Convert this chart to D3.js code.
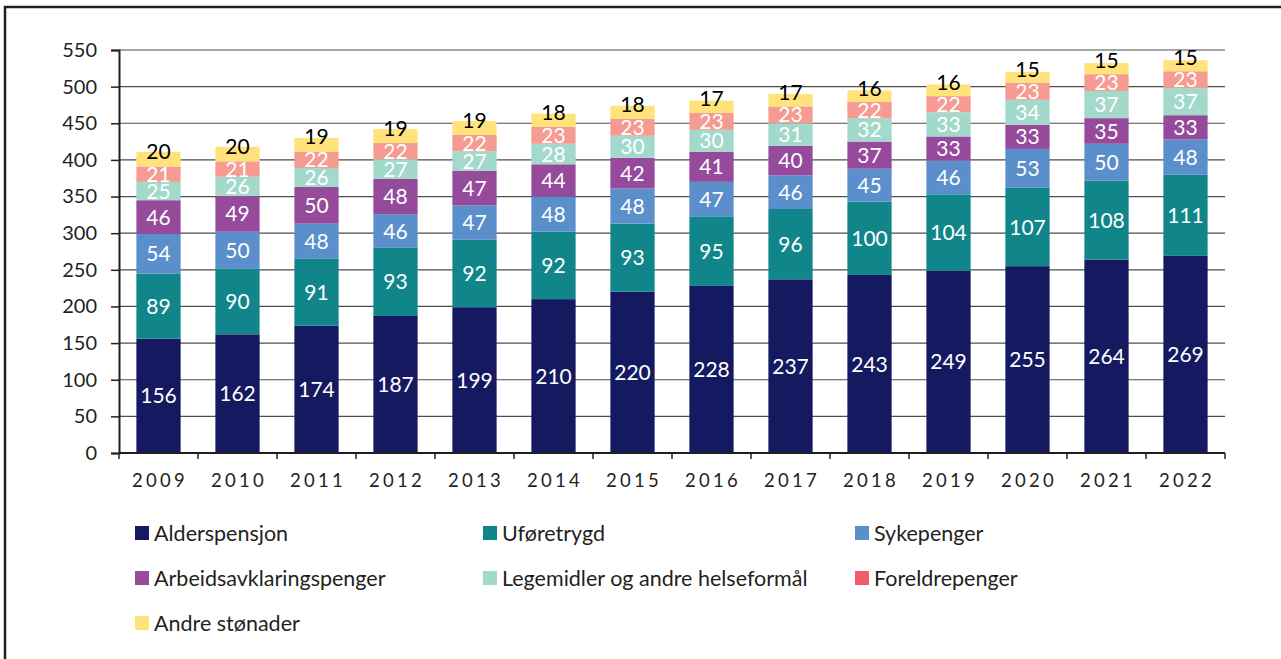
<!DOCTYPE html>
<html>
<head>
<meta charset="utf-8">
<script src="https://cdn.jsdelivr.net/npm/d3@7"></script>
<style>
  body { margin: 0; background: #fff; }
  svg { display: block; font-family: Lato, "Open Sans", sans-serif; }
</style>
</head>
<body>
<div id="chart"></div>
<script>
const years = ["2009","2010","2011","2012","2013","2014","2015","2016","2017","2018","2019","2020","2021","2022"];
const seriesNames = ["Alderspensjon","Uføretrygd","Sykepenger","Arbeidsavklaringspenger","Legemidler og andre helseformål","Foreldrepenger","Andre stønader"];
const alderspensjon = [156,162,174,187,199,210,220,228,237,243,249,255,264,269];
const uforetrygd    = [89,90,91,93,92,92,93,95,96,100,104,107,108,111];
const sykepenger    = [54,50,48,46,47,48,48,47,46,45,46,53,50,48];
const aap           = [46,49,50,48,47,44,42,41,40,37,33,33,35,33];
const legemidler    = [25,26,26,27,27,28,30,30,31,32,33,34,37,37];
const foreldre      = [21,21,22,22,22,23,23,23,23,22,22,23,23,23];
const andre         = [20,20,19,19,19,18,18,17,17,16,16,15,15,15];
const yTicks = [0,50,100,150,200,250,300,350,400,450,500,550];

const barColors = ["#151960","#10868a","#5b8fcb","#954a9c","#a3d9cb","#f59b91","#ffe27a"];
const legendColors = ["#151960","#10868a","#5b8fcb","#954a9c","#a3d9cb","#f25c66","#ffe27a"];
const labelColors = ["#fff","#fff","#fff","#fff","#fff","#fff","#000"];

const allSeries = [alderspensjon, uforetrygd, sykepenger, aap, legemidler, foreldre, andre];
const rows = years.map((y, i) => {
  const r = { year: y };
  seriesNames.forEach((n, k) => r[n] = allSeries[k][i]);
  return r;
});

const width = 1281, height = 659;
const marginLeft = 119, marginRight = 56, marginTop = 50, plotBottom = 453;

const svg = d3.select("#chart").append("svg")
  .attr("width", width).attr("height", height);

// outer frame
svg.append("rect")
  .attr("x", 5).attr("y", 7)
  .attr("width", width + 20).attr("height", height + 20)
  .attr("fill", "none").attr("stroke", "#231f20").attr("stroke-width", 2.5);

const x = d3.scaleBand()
  .domain(years)
  .range([marginLeft, width - marginRight])
  .paddingInner(0.44).paddingOuter(0.22);

const y = d3.scaleLinear().domain([0, 550]).range([plotBottom, marginTop]);

// grid
svg.append("g")
  .selectAll("line")
  .data(yTicks.filter(d => d > 0))
  .join("line")
    .attr("x1", marginLeft).attr("x2", width - marginRight)
    .attr("y1", d => y(d)).attr("y2", d => y(d))
    .attr("stroke", "#4d4d4d").attr("stroke-width", 1.2);

const stacked = d3.stack().keys(seriesNames)(rows);

const layer = svg.append("g")
  .selectAll("g")
  .data(stacked)
  .join("g")
    .attr("fill", (d, i) => barColors[i]);

layer.selectAll("rect")
  .data(d => d)
  .join("rect")
    .attr("x", d => x(d.data.year))
    .attr("width", x.bandwidth())
    .attr("y", d => y(d[1]))
    .attr("height", d => y(d[0]) - y(d[1]));

// y axis
svg.append("g")
  .attr("transform", `translate(${marginLeft},0)`)
  .call(d3.axisLeft(y).tickValues(yTicks).tickSize(8).tickPadding(14))
  .call(g => g.select(".domain").attr("stroke", "#231f20").attr("stroke-width", 2))
  .call(g => g.selectAll(".tick line").attr("stroke", "#231f20").attr("stroke-width", 1.5))
  .call(g => g.selectAll(".tick text").attr("font-size", 20).attr("fill", "#231f20")
    .attr("font-family", "Lato, sans-serif"));

// x axis with ticks at category boundaries
const xAxisG = svg.append("g").attr("transform", `translate(0,${plotBottom})`);
xAxisG.append("line")
  .attr("x1", marginLeft).attr("x2", width - marginRight)
  .attr("stroke", "#231f20").attr("stroke-width", 2);
const step = x.step();
const bounds = years.map(yr => x(yr) - x.paddingInner() * step / 2).concat([width - marginRight]);
bounds[0] = marginLeft;
xAxisG.selectAll("line.tk")
  .data(bounds)
  .join("line")
    .attr("class", "tk")
    .attr("x1", d => d).attr("x2", d => d)
    .attr("y1", 0).attr("y2", 6)
    .attr("stroke", "#231f20").attr("stroke-width", 1.5);
xAxisG.selectAll("text")
  .data(years)
  .join("text")
    .attr("x", d => x(d) + x.bandwidth() / 2 + 1.5)
    .attr("y", 34)
    .attr("text-anchor", "middle")
    .attr("font-size", 18.5)
    .attr("letter-spacing", 3.3)
    .attr("fill", "#231f20")
    .text(d => d);

// value labels (top series sits a bit higher, as in the original)
layer.each(function(s, i) {
  d3.select(this).selectAll("text")
    .data(s)
    .join("text")
      .attr("x", d => x(d.data.year) + x.bandwidth() / 2)
      .attr("y", d => y((d[0] + d[1]) / 2) - (i === 6 ? 8 : 0))
      .attr("dy", "0.36em")
      .attr("text-anchor", "middle")
      .attr("font-size", 21)
      .attr("fill", labelColors[i])
      .text(d => d[1] - d[0]);
});

// legend
const legendPos = [[135,533],[483,533],[855,533],[135,578],[483,578],[855,578],[135,623]];
const legend = svg.append("g")
  .selectAll("g")
  .data(seriesNames)
  .join("g")
    .attr("transform", (d, i) => `translate(${legendPos[i][0]},${legendPos[i][1]})`);
legend.append("rect")
  .attr("x", 0).attr("y", -7).attr("width", 14).attr("height", 14)
  .attr("fill", (d, i) => legendColors[i]);
legend.append("text")
  .attr("x", 19).attr("y", 0).attr("dy", "0.35em")
  .attr("font-size", 21.5).attr("fill", "#231f20")
  .text(d => d);
</script>
</body>
</html>
